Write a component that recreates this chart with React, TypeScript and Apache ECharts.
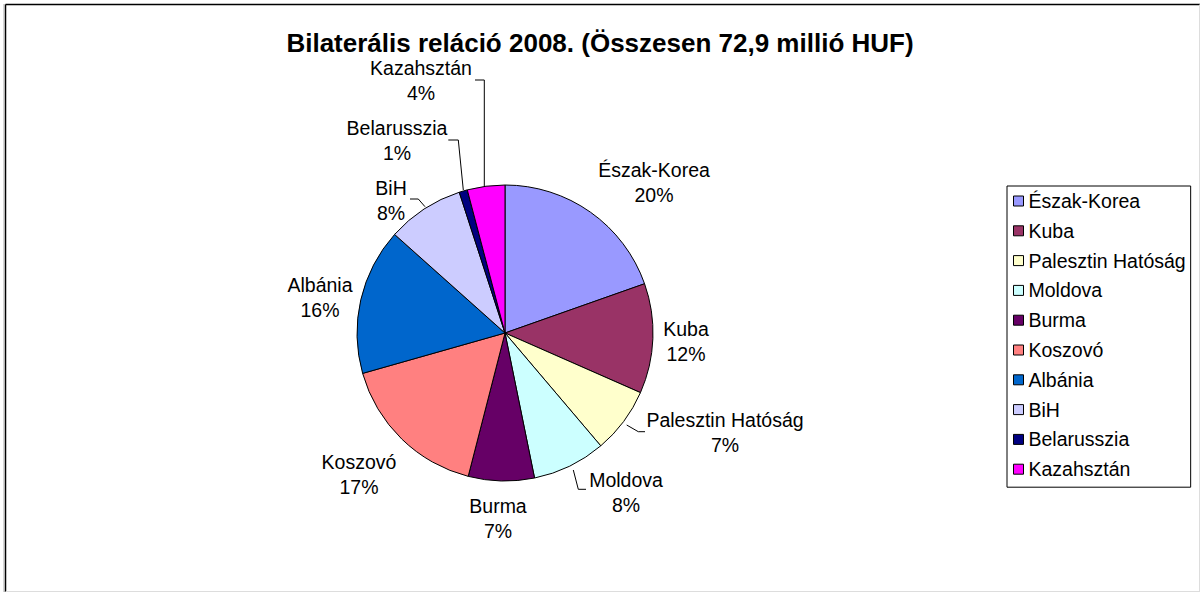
import React, { useEffect, useRef } from "react";
import * as echarts from "echarts";

const titleText = "Bilaterális reláció 2008. (Összesen 72,9 millió HUF)";
const categories = [
  "Észak-Korea",
  "Kuba",
  "Palesztin Hatóság",
  "Moldova",
  "Burma",
  "Koszovó",
  "Albánia",
  "BiH",
  "Belarusszia",
  "Kazahsztán",
];
const shares = [19.6, 12.0, 7.2, 8.0, 7.2, 16.6, 16.0, 8.4, 0.9, 4.1];
const colors = [
  "#9999FF",
  "#993366",
  "#FFFFCC",
  "#CCFFFF",
  "#660066",
  "#FF8080",
  "#0066CC",
  "#CCCCFF",
  "#000080",
  "#FF00FF",
];

// label layout (block centres) and leader lines, Excel-style placement
const labelCentres: number[][] = [
  [654, 182],
  [686, 341],
  [725, 432],
  [626, 492],
  [498, 518],
  [359, 474],
  [320, 297],
  [391, 200],
  [397, 140],
  [421, 80],
];
const leaderLines: (number[][] | null)[] = [
  null,
  null,
  [[626.7, 425], [638.3, 431.7], [645, 431.7]],
  [[573.3, 470], [578.3, 489.3], [586, 489.3]],
  null,
  null,
  null,
  [[425, 206.7], [418.3, 199], [410, 199]],
  [[463.3, 190], [458.3, 140], [448.3, 140]],
  [[484.3, 186], [484.3, 80], [475, 80]],
];

const FONT = "'Liberation Sans', Arial, sans-serif";

export default function App() {
  const ref = useRef<HTMLDivElement>(null);
  useEffect(() => {
    document.body.style.margin = "0";
    const chart = echarts.init(ref.current!, null, { renderer: "svg" });
    chart.setOption({
      animation: false,
      backgroundColor: "#ffffff",
      title: {
        text: titleText,
        left: "center",
        top: 30,
        padding: 0,
        textStyle: {
          fontFamily: FONT,
          fontWeight: "bold",
          fontSize: 26,
          color: "#000",
        },
      },
      graphic: [
        { type: "line", shape: { x1: 5.5, y1: 4.5, x2: 1200, y2: 4.5 }, style: { stroke: "#000", lineWidth: 1.5 } },
        { type: "line", shape: { x1: 5.5, y1: 4.5, x2: 5.5, y2: 592 }, style: { stroke: "#000", lineWidth: 1.5 } },
        { type: "line", shape: { x1: 4, y1: 4, x2: 4, y2: 592 }, style: { stroke: "#aaa", lineWidth: 1 } },
        { type: "line", shape: { x1: 1199.5, y1: 4.5, x2: 1199.5, y2: 592 }, style: { stroke: "#ddd", lineWidth: 1 } },
        { type: "line", shape: { x1: 5.5, y1: 591.5, x2: 1200, y2: 591.5 }, style: { stroke: "#ddd", lineWidth: 1 } },
      ],
      legend: {
        orient: "vertical",
        left: 1007,
        top: 186,
        padding: [5, 5, 8, 6],
        itemWidth: 10,
        itemHeight: 10,
        itemGap: 9.8,
        icon: "rect",
        backgroundColor: "#fff",
        borderColor: "#000",
        borderWidth: 1,
        textStyle: {
          fontFamily: FONT,
          fontSize: 19.5,
          color: "#000",
          lineHeight: 20,
        },
        itemStyle: { borderColor: "#000", borderWidth: 1 },
        data: categories,
      },
      series: [
        {
          type: "pie",
          center: [505, 333],
          radius: 148,
          startAngle: 90,
          clockwise: true,
          avoidLabelOverlap: false,
          percentPrecision: 0,
          itemStyle: { borderColor: "#000", borderWidth: 1 },
          emphasis: { disabled: true },
          label: {
            show: true,
            position: "outside",
            formatter: "{b}\n{d}%",
            fontFamily: FONT,
            fontSize: 19.5,
            lineHeight: 25,
            color: "#000",
            align: "center",
          },
          labelLine: {
            show: true,
            lineStyle: { color: "#000", width: 1 },
          },
          labelLayout: (params: any) => {
            const i = params.dataIndex;
            const c = labelCentres[i];
            const out: any = {
              x: c[0],
              y: c[1],
              align: "center",
              verticalAlign: "middle",
            };
            if (leaderLines[i]) out.labelLinePoints = leaderLines[i];
            return out;
          },
          data: categories.map((name, i) => ({
            name,
            value: shares[i],
            itemStyle: { color: colors[i] },
            labelLine: { show: !!leaderLines[i] },
          })),
        },
      ],
    });
    return () => chart.dispose();
  }, []);
  return <div ref={ref} style={{ width: 1200, height: 592 }} />;
}
